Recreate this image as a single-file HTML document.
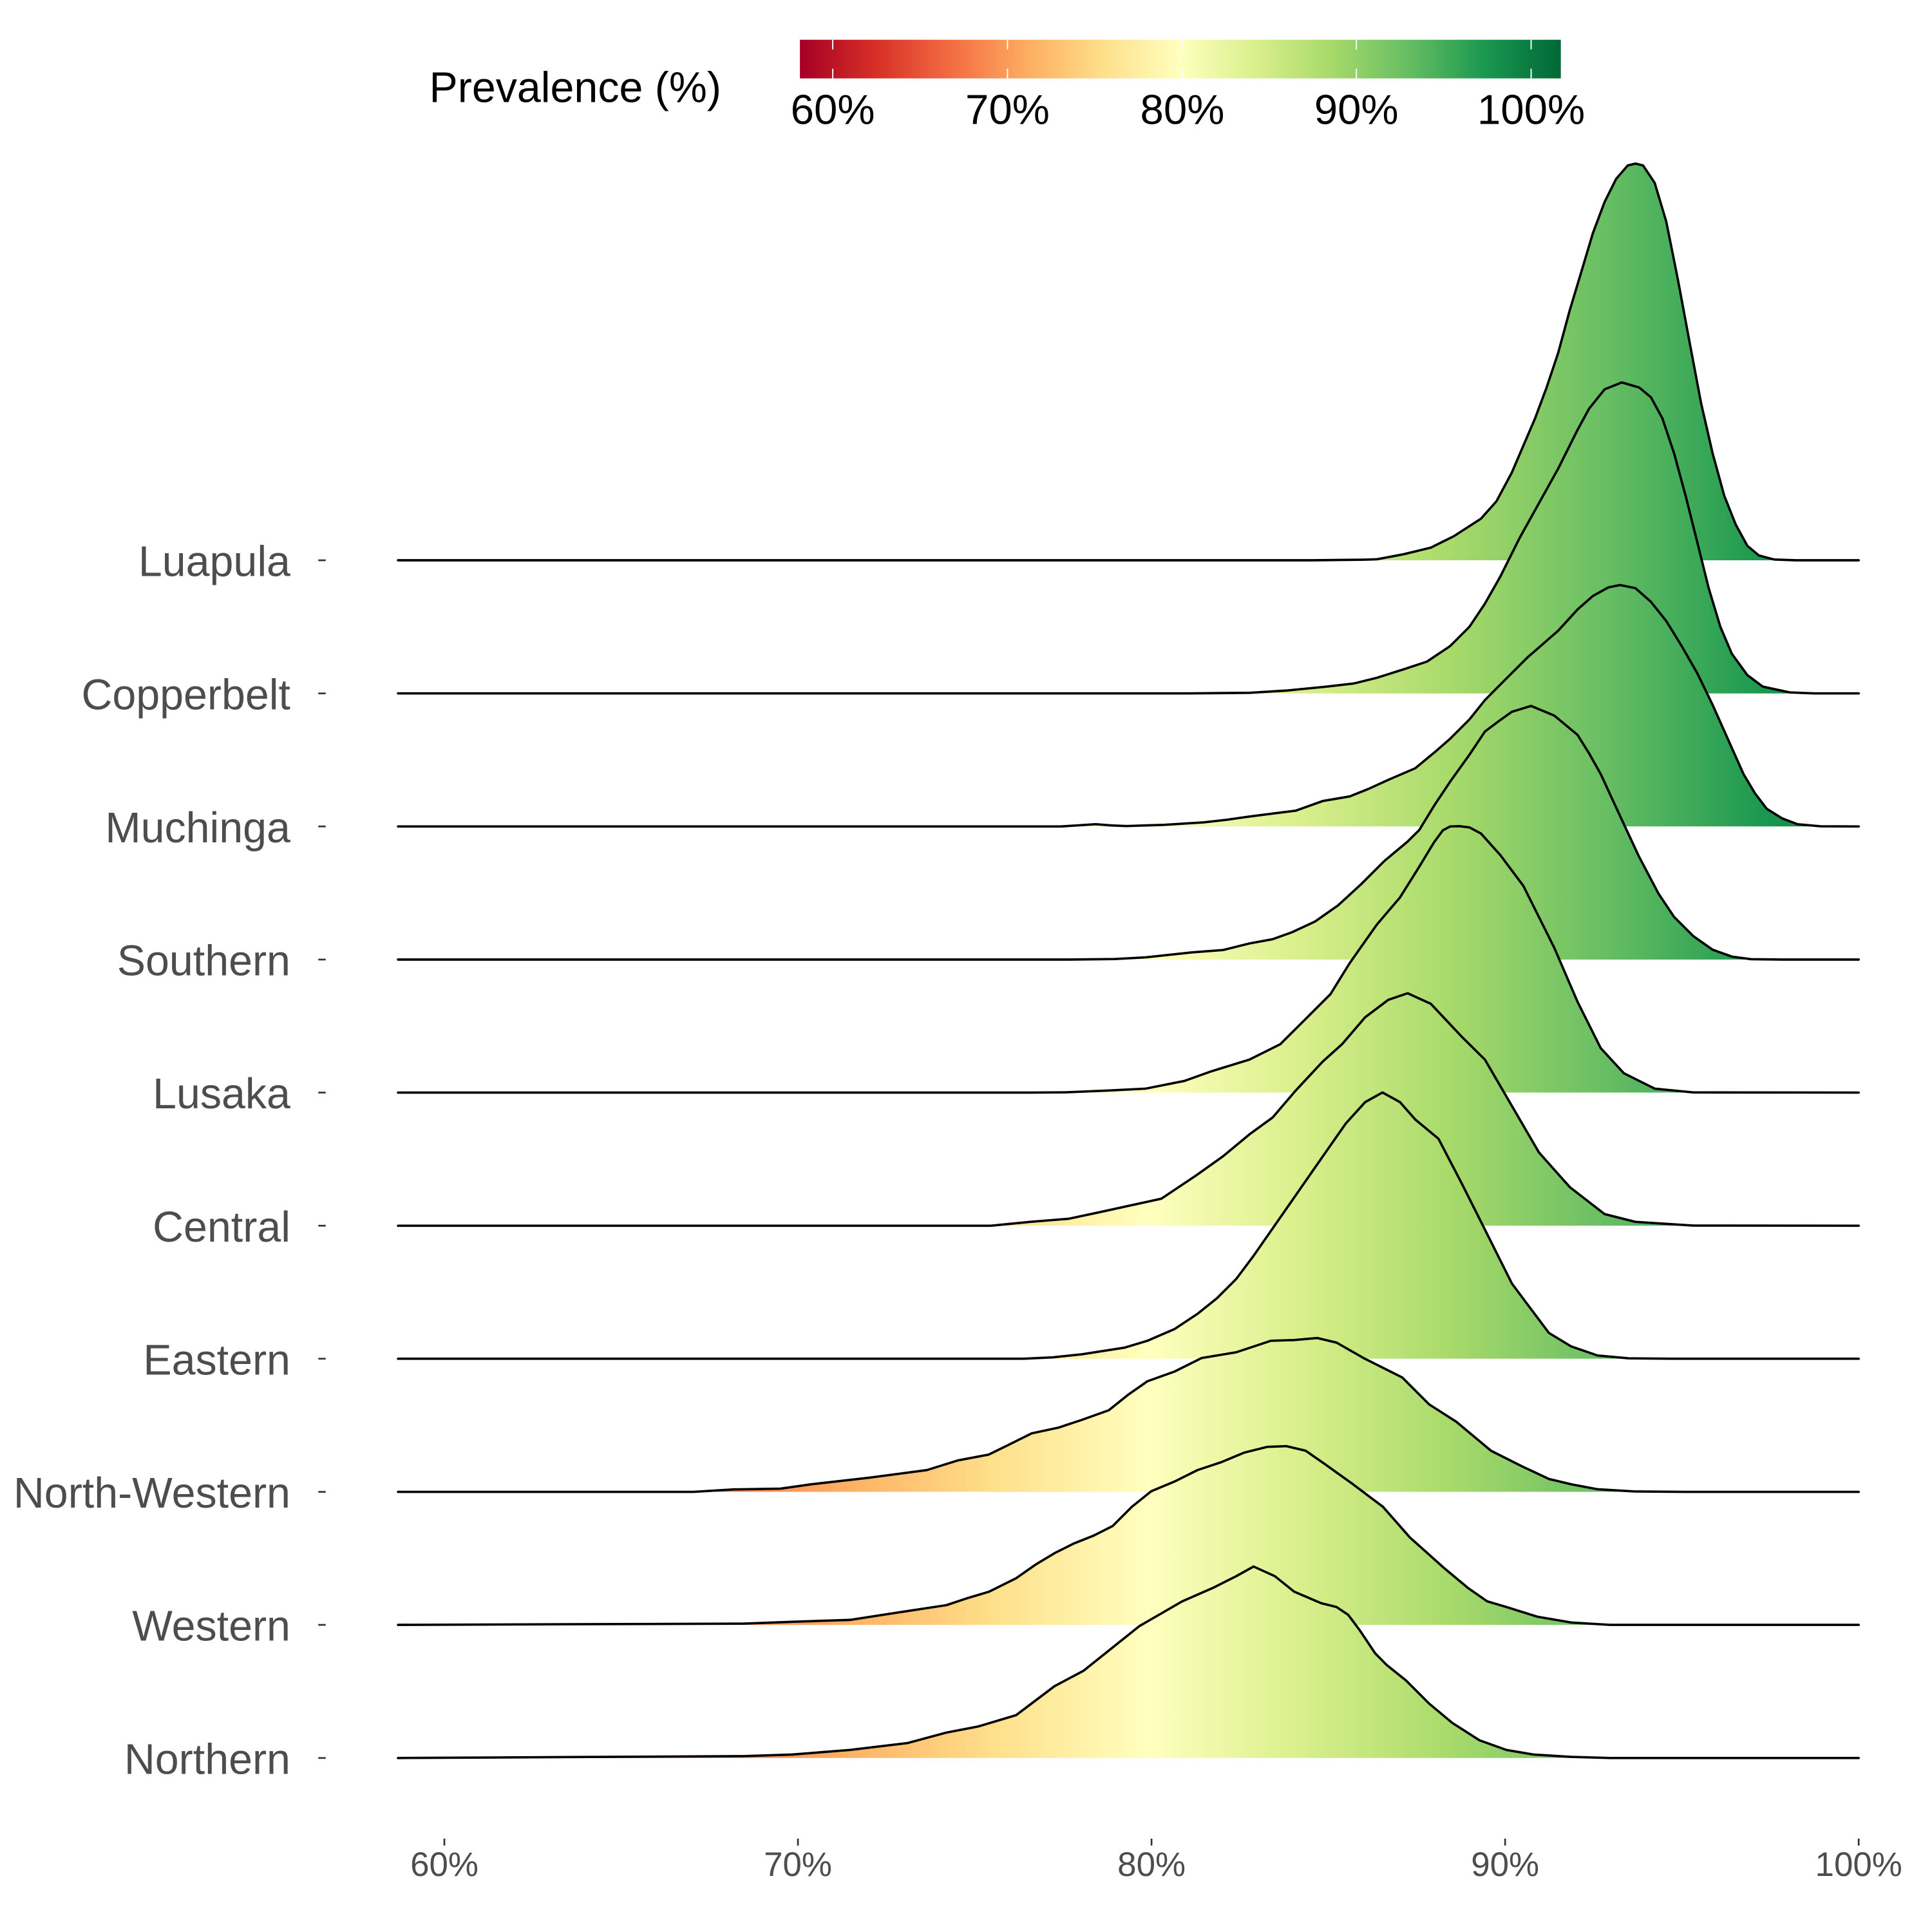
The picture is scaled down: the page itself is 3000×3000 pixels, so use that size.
<!DOCTYPE html>
<html>
<head>
<meta charset="utf-8">
<style>
html,body{margin:0;padding:0;background:#fff;}
svg{display:block;}
text{font-family:"Liberation Sans",Arial,sans-serif;}
</style>
</head>
<body>
<svg xmlns="http://www.w3.org/2000/svg" width="3000" height="3000" viewBox="0 0 1560 1560">
<defs>
<linearGradient id="g" gradientUnits="userSpaceOnUse" x1="305.1" y1="0" x2="1549.3" y2="0">
<stop offset="0" stop-color="#A50026"/>
<stop offset="0.1" stop-color="#D73027"/>
<stop offset="0.2" stop-color="#F46D43"/>
<stop offset="0.3" stop-color="#FDAE61"/>
<stop offset="0.4" stop-color="#FEE08B"/>
<stop offset="0.5" stop-color="#FFFFBF"/>
<stop offset="0.6" stop-color="#D9EF8B"/>
<stop offset="0.7" stop-color="#A6D96A"/>
<stop offset="0.8" stop-color="#66BD63"/>
<stop offset="0.9" stop-color="#1A9850"/>
<stop offset="1" stop-color="#006837"/>
</linearGradient>
<linearGradient id="lg" x1="0" y1="0" x2="1" y2="0">
<stop offset="0" stop-color="#A50026"/>
<stop offset="0.1" stop-color="#D73027"/>
<stop offset="0.2" stop-color="#F46D43"/>
<stop offset="0.3" stop-color="#FDAE61"/>
<stop offset="0.4" stop-color="#FEE08B"/>
<stop offset="0.5" stop-color="#FFFFBF"/>
<stop offset="0.6" stop-color="#D9EF8B"/>
<stop offset="0.7" stop-color="#A6D96A"/>
<stop offset="0.8" stop-color="#66BD63"/>
<stop offset="0.9" stop-color="#1A9850"/>
<stop offset="1" stop-color="#006837"/>
</linearGradient>
</defs>
<rect x="0" y="0" width="1560" height="1560" fill="#fff"/>

<!-- Legend -->
<text x="346.6" y="82.3" font-size="34.5" fill="#000">Prevalence (%)</text>
<rect x="645.9" y="32.1" width="614.4" height="31.2" fill="url(#lg)"/>
<g stroke="#fff" stroke-width="1">
<line x1="672.4" y1="32.1" x2="672.4" y2="39.9"/><line x1="672.4" y1="55.5" x2="672.4" y2="63.3"/>
<line x1="813.5" y1="32.1" x2="813.5" y2="39.9"/><line x1="813.5" y1="55.5" x2="813.5" y2="63.3"/>
<line x1="954.7" y1="32.1" x2="954.7" y2="39.9"/><line x1="954.7" y1="55.5" x2="954.7" y2="63.3"/>
<line x1="1095.2" y1="32.1" x2="1095.2" y2="39.9"/><line x1="1095.2" y1="55.5" x2="1095.2" y2="63.3"/>
<line x1="1236.3" y1="32.1" x2="1236.3" y2="39.9"/><line x1="1236.3" y1="55.5" x2="1236.3" y2="63.3"/>
</g>
<g font-size="34" fill="#000" text-anchor="middle">
<text x="672.4" y="100.2">60%</text>
<text x="813.5" y="100.2">70%</text>
<text x="954.7" y="100.2">80%</text>
<text x="1095.2" y="100.2">90%</text>
<text x="1236.3" y="100.2">100%</text>
</g>

<!-- Ridges -->
<g stroke="#000" stroke-width="1.9" stroke-linejoin="round" stroke-linecap="round">
<!-- Luapula -->
<path fill="url(#g)" stroke="none" d="M321.4,452.4 L1060,452.4 1102,451.9 1111.7,451.6 1133.5,447.5 1155.3,442.2 1174,432.9 1195.8,418.8 1208.3,404.8 1220.8,381.4 1239.5,337.8 1248.8,312.9 1258.2,284.8 1267.5,250.5 1276.9,219.3 1286.2,188.2 1295.6,163.2 1304.9,144.5 1314.3,133.6 1320.5,132.1 1326.7,133.6 1336.1,147.7 1345.4,178.8 1354.8,225.6 1364.1,275.5 1373.5,325.3 1382.8,365.8 1392.2,400.1 1401.5,423.5 1410.9,440.7 1420.2,448.5 1432.7,451.8 1450,452.4 1500.8,452.4 Z"/>
<path fill="none" d="M321.4,452.4 L1060,452.4 1102,451.9 1111.7,451.6 1133.5,447.5 1155.3,442.2 1174,432.9 1195.8,418.8 1208.3,404.8 1220.8,381.4 1239.5,337.8 1248.8,312.9 1258.2,284.8 1267.5,250.5 1276.9,219.3 1286.2,188.2 1295.6,163.2 1304.9,144.5 1314.3,133.6 1320.5,132.1 1326.7,133.6 1336.1,147.7 1345.4,178.8 1354.8,225.6 1364.1,275.5 1373.5,325.3 1382.8,365.8 1392.2,400.1 1401.5,423.5 1410.9,440.7 1420.2,448.5 1432.7,451.8 1450,452.4 1500.8,452.4"/>

<!-- Copperbelt -->
<path fill="url(#g)" stroke="none" d="M321.4,559.9 L960,559.9 1008.8,559.4 1040,557.5 1071.1,554.4 1093,551.9 1111.7,547.3 1133.5,540.4 1152.2,534.2 1170.9,521.7 1186.5,506.1 1199,487.4 1211.4,465.6 1227,434.4 1242.6,406.4 1258.2,378.3 1273.8,347.1 1283.1,330 1295.6,314.4 1309.6,308.8 1323.6,312.9 1333,320.7 1342.3,337.8 1351.7,365.9 1361,400.1 1370.4,437.5 1379.7,474.9 1389.1,506.1 1398.4,527.9 1410.9,545.1 1423.4,554.4 1445.2,559.1 1465,559.9 1500.8,559.9 Z"/>
<path fill="none" d="M321.4,559.9 L960,559.9 1008.8,559.4 1040,557.5 1071.1,554.4 1093,551.9 1111.7,547.3 1133.5,540.4 1152.2,534.2 1170.9,521.7 1186.5,506.1 1199,487.4 1211.4,465.6 1227,434.4 1242.6,406.4 1258.2,378.3 1273.8,347.1 1283.1,330 1295.6,314.4 1309.6,308.8 1323.6,312.9 1333,320.7 1342.3,337.8 1351.7,365.9 1361,400.1 1370.4,437.5 1379.7,474.9 1389.1,506.1 1398.4,527.9 1410.9,545.1 1423.4,554.4 1445.2,559.1 1465,559.9 1500.8,559.9"/>

<!-- Muchinga -->
<path fill="url(#g)" stroke="none" d="M321.4,667.3 L856.6,667.3 870,666.5 884.7,665.5 897,666.5 909.6,667 940,666 972,664 990,662 1008.8,659.3 1027,657 1046.2,654.6 1068,646.8 1089.8,643.1 1105,637 1121,629.7 1142.8,620.3 1158.4,607.4 1170.9,596.5 1186.5,580.9 1199,565.3 1214.5,549.7 1233.2,531 1245.7,520.1 1258.2,509.2 1273.8,492.1 1286.2,481.2 1298.7,474.3 1308,472.4 1320.5,474.9 1333,485.9 1345.4,501.4 1357.9,521.7 1370.4,543.5 1382.8,569 1395.3,597 1407.8,625 1417.1,640.6 1426.5,653 1439,660.8 1451.4,665.5 1470.1,667.2 1500.8,667.3 Z"/>
<path fill="none" d="M321.4,667.3 L856.6,667.3 870,666.5 884.7,665.5 897,666.5 909.6,667 940,666 972,664 990,662 1008.8,659.3 1027,657 1046.2,654.6 1068,646.8 1089.8,643.1 1105,637 1121,629.7 1142.8,620.3 1158.4,607.4 1170.9,596.5 1186.5,580.9 1199,565.3 1214.5,549.7 1233.2,531 1245.7,520.1 1258.2,509.2 1273.8,492.1 1286.2,481.2 1298.7,474.3 1308,472.4 1320.5,474.9 1333,485.9 1345.4,501.4 1357.9,521.7 1370.4,543.5 1382.8,569 1395.3,597 1407.8,625 1417.1,640.6 1426.5,653 1439,660.8 1451.4,665.5 1470.1,667.2 1500.8,667.3"/>

<!-- Southern -->
<path fill="url(#g)" stroke="none" d="M321.4,774.8 L863,774.8 900,774.4 925.2,773 962.6,769 987.6,767.1 1008.8,761.8 1027.5,758.4 1043.1,752.8 1061.8,744.1 1080.5,731 1099.2,713.8 1117.9,695.1 1136.6,679.5 1146,670.2 1158.4,649.9 1170.9,631.2 1186.5,609.4 1199,590.7 1211.4,581.4 1220.8,574.7 1236.3,570 1255,577.8 1273.8,593.4 1283.1,608.3 1292.5,625 1301.8,645.2 1311.2,665.5 1323.6,692 1339.2,721.6 1351.7,740.3 1367.3,755.9 1382.8,766.8 1398.4,772.4 1414,774.5 1440,774.8 1500.8,774.8 Z"/>
<path fill="none" d="M321.4,774.8 L863,774.8 900,774.4 925.2,773 962.6,769 987.6,767.1 1008.8,761.8 1027.5,758.4 1043.1,752.8 1061.8,744.1 1080.5,731 1099.2,713.8 1117.9,695.1 1136.6,679.5 1146,670.2 1158.4,649.9 1170.9,631.2 1186.5,609.4 1199,590.7 1211.4,581.4 1220.8,574.7 1236.3,570 1255,577.8 1273.8,593.4 1283.1,608.3 1292.5,625 1301.8,645.2 1311.2,665.5 1323.6,692 1339.2,721.6 1351.7,740.3 1367.3,755.9 1382.8,766.8 1398.4,772.4 1414,774.5 1440,774.8 1500.8,774.8"/>

<!-- Lusaka -->
<path fill="url(#g)" stroke="none" d="M321.4,882.2 L831.7,882.2 860,882 894,880.6 925.2,879 956.4,872.8 978.2,865 1008.8,855.6 1033.7,843.2 1055.6,821.4 1074.3,802.7 1089.8,777.7 1111.7,746.6 1130.4,724.7 1146,699.8 1158,680 1165,670.5 1171,667.3 1178.7,667.1 1186.5,668.1 1195.8,673 1211.4,690.4 1230.1,715.4 1255,765.3 1273.8,808.9 1292.5,846.3 1311.2,866.6 1336.1,879 1367.3,882.1 1500.8,882.2 Z"/>
<path fill="none" d="M321.4,882.2 L831.7,882.2 860,882 894,880.6 925.2,879 956.4,872.8 978.2,865 1008.8,855.6 1033.7,843.2 1055.6,821.4 1074.3,802.7 1089.8,777.7 1111.7,746.6 1130.4,724.7 1146,699.8 1158,680 1165,670.5 1171,667.3 1178.7,667.1 1186.5,668.1 1195.8,673 1211.4,690.4 1230.1,715.4 1255,765.3 1273.8,808.9 1292.5,846.3 1311.2,866.6 1336.1,879 1367.3,882.1 1500.8,882.2"/>

<!-- Central -->
<path fill="url(#g)" stroke="none" d="M321.4,989.7 L800,989.7 831.7,986.6 862.9,984.1 887.8,978.8 937.7,967.9 965.7,949.2 987.6,933.6 1008.8,916 1027.5,902.4 1046.2,880.6 1068,857.2 1083.6,843.2 1102.3,821.4 1121,807.3 1136.6,802 1155.3,810.5 1180.2,837 1199,855.6 1220.8,893 1242.6,930.5 1267.5,958.5 1295.6,980.3 1320.5,986.6 1367.3,989.6 1500.8,989.7 Z"/>
<path fill="none" d="M321.4,989.7 L800,989.7 831.7,986.6 862.9,984.1 887.8,978.8 937.7,967.9 965.7,949.2 987.6,933.6 1008.8,916 1027.5,902.4 1046.2,880.6 1068,857.2 1083.6,843.2 1102.3,821.4 1121,807.3 1136.6,802 1155.3,810.5 1180.2,837 1199,855.6 1220.8,893 1242.6,930.5 1267.5,958.5 1295.6,980.3 1320.5,986.6 1367.3,989.6 1500.8,989.7"/>

<!-- Eastern -->
<path fill="url(#g)" stroke="none" d="M321.4,1097.1 L826.5,1097.1 850,1096 873.5,1093.5 907.8,1088.2 926.5,1082.6 948.3,1073.2 967,1060.8 982.6,1048.3 998.2,1032.7 1012.2,1014 1040,974.1 1064.9,938.3 1086.7,907.1 1102.3,889.9 1116.3,882.1 1130.4,889.9 1142.8,904 1161.5,919.5 1180.2,955.4 1202.1,999 1220.8,1036.4 1232,1051.4 1250.7,1076.3 1268.7,1087.2 1290,1094.5 1315,1096.8 1350,1097.1 1500.8,1097.1 Z"/>
<path fill="none" d="M321.4,1097.1 L826.5,1097.1 850,1096 873.5,1093.5 907.8,1088.2 926.5,1082.6 948.3,1073.2 967,1060.8 982.6,1048.3 998.2,1032.7 1012.2,1014 1040,974.1 1064.9,938.3 1086.7,907.1 1102.3,889.9 1116.3,882.1 1130.4,889.9 1142.8,904 1161.5,919.5 1180.2,955.4 1202.1,999 1220.8,1036.4 1232,1051.4 1250.7,1076.3 1268.7,1087.2 1290,1094.5 1315,1096.8 1350,1097.1 1500.8,1097.1"/>

<!-- North-Western -->
<path fill="url(#g)" stroke="none" d="M321.4,1204.6 L560,1204.6 592.7,1202.6 630.1,1202 655,1198.5 701.8,1193.2 748.5,1187 773.5,1179.2 798.4,1174.5 814.3,1166.7 833,1157.4 854.8,1152.7 873.5,1146.5 895.3,1138.7 910.9,1126.2 926.5,1115.3 948.3,1107.5 970.1,1096.6 998.2,1091.9 1026.2,1082.6 1045,1082 1063.7,1080.4 1079.2,1084.1 1101.1,1096.6 1132.2,1112.2 1154,1134 1175.9,1148 1203.9,1171.4 1228.8,1183.9 1250.7,1194.2 1268.7,1198.5 1290,1202.5 1320,1204.3 1360,1204.6 1500.8,1204.6 Z"/>
<path fill="none" d="M321.4,1204.6 L560,1204.6 592.7,1202.6 630.1,1202 655,1198.5 701.8,1193.2 748.5,1187 773.5,1179.2 798.4,1174.5 814.3,1166.7 833,1157.4 854.8,1152.7 873.5,1146.5 895.3,1138.7 910.9,1126.2 926.5,1115.3 948.3,1107.5 970.1,1096.6 998.2,1091.9 1026.2,1082.6 1045,1082 1063.7,1080.4 1079.2,1084.1 1101.1,1096.6 1132.2,1112.2 1154,1134 1175.9,1148 1203.9,1171.4 1228.8,1183.9 1250.7,1194.2 1268.7,1198.5 1290,1202.5 1320,1204.3 1360,1204.6 1500.8,1204.6"/>

<!-- Western -->
<path fill="url(#g)" stroke="none" d="M321.4,1312 L600,1311 639.4,1309.5 686.2,1308 733,1300.8 764.1,1296.1 780,1290.8 798.7,1285.2 820.5,1274.3 836.1,1263.4 851.7,1254 867.3,1246.2 882.9,1240 898.4,1232.2 914,1216.6 929.6,1204.1 948.3,1196.3 967,1187 985.7,1180.8 1004.4,1173 1023.1,1168.3 1038.7,1167.7 1054.3,1171.4 1069.9,1182.3 1091.7,1197.9 1116.6,1216.6 1138.5,1241.5 1166.5,1266.5 1185.2,1282.1 1200.8,1293 1216.4,1297.6 1241.3,1305.4 1268.7,1310.1 1300,1312 1500.8,1312 Z"/>
<path fill="none" d="M321.4,1312 L600,1311 639.4,1309.5 686.2,1308 733,1300.8 764.1,1296.1 780,1290.8 798.7,1285.2 820.5,1274.3 836.1,1263.4 851.7,1254 867.3,1246.2 882.9,1240 898.4,1232.2 914,1216.6 929.6,1204.1 948.3,1196.3 967,1187 985.7,1180.8 1004.4,1173 1023.1,1168.3 1038.7,1167.7 1054.3,1171.4 1069.9,1182.3 1091.7,1197.9 1116.6,1216.6 1138.5,1241.5 1166.5,1266.5 1185.2,1282.1 1200.8,1293 1216.4,1297.6 1241.3,1305.4 1268.7,1310.1 1300,1312 1500.8,1312"/>

<!-- Northern -->
<path fill="url(#g)" stroke="none" d="M321.4,1419.5 L600,1418 639.4,1416.7 686.2,1413 733,1407.4 764.1,1399 790,1394 820.5,1384.9 851.5,1361.5 875,1349 920,1313 954.6,1293 979.5,1282.1 998.2,1272.7 1012.2,1264.9 1029.4,1272.7 1045,1285.2 1066.8,1294.5 1079.2,1297.6 1088.6,1303.9 1097.9,1316.3 1110.4,1335 1119.7,1344.4 1135.3,1356.9 1154,1375.6 1172.7,1391.2 1194.6,1405.2 1216.4,1413 1238.2,1416.7 1268.7,1418.6 1300,1419.5 1500.8,1419.5 Z"/>
<path fill="none" d="M321.4,1419.5 L600,1418 639.4,1416.7 686.2,1413 733,1407.4 764.1,1399 790,1394 820.5,1384.9 851.5,1361.5 875,1349 920,1313 954.6,1293 979.5,1282.1 998.2,1272.7 1012.2,1264.9 1029.4,1272.7 1045,1285.2 1066.8,1294.5 1079.2,1297.6 1088.6,1303.9 1097.9,1316.3 1110.4,1335 1119.7,1344.4 1135.3,1356.9 1154,1375.6 1172.7,1391.2 1194.6,1405.2 1216.4,1413 1238.2,1416.7 1268.7,1418.6 1300,1419.5 1500.8,1419.5"/>
</g>

<!-- Y axis ticks -->
<g stroke="#333" stroke-width="1.4">
<line x1="257" y1="452.4" x2="263" y2="452.4"/>
<line x1="257" y1="559.9" x2="263" y2="559.9"/>
<line x1="257" y1="667.3" x2="263" y2="667.3"/>
<line x1="257" y1="774.8" x2="263" y2="774.8"/>
<line x1="257" y1="882.2" x2="263" y2="882.2"/>
<line x1="257" y1="989.7" x2="263" y2="989.7"/>
<line x1="257" y1="1097.1" x2="263" y2="1097.1"/>
<line x1="257" y1="1204.6" x2="263" y2="1204.6"/>
<line x1="257" y1="1312" x2="263" y2="1312"/>
<line x1="257" y1="1419.5" x2="263" y2="1419.5"/>
</g>
<!-- Y axis labels -->
<g font-size="34.5" fill="#4D4D4D" text-anchor="end">
<text x="234.5" y="465.2">Luapula</text>
<text x="234.5" y="572.7">Copperbelt</text>
<text x="234.5" y="680.1">Muchinga</text>
<text x="234.5" y="787.6">Southern</text>
<text x="234.5" y="895">Lusaka</text>
<text x="234.5" y="1002.5">Central</text>
<text x="234.5" y="1109.9">Eastern</text>
<text x="234.5" y="1217.4">North-Western</text>
<text x="234.5" y="1324.8">Western</text>
<text x="234.5" y="1432.3">Northern</text>
</g>

<!-- X axis ticks -->
<g stroke="#333" stroke-width="1.4">
<line x1="358.8" y1="1484.6" x2="358.8" y2="1490.2"/>
<line x1="644.3" y1="1484.6" x2="644.3" y2="1490.2"/>
<line x1="929.8" y1="1484.6" x2="929.8" y2="1490.2"/>
<line x1="1215.3" y1="1484.6" x2="1215.3" y2="1490.2"/>
<line x1="1500.8" y1="1484.6" x2="1500.8" y2="1490.2"/>
</g>
<g font-size="27.5" fill="#4D4D4D" text-anchor="middle">
<text x="358.8" y="1514.8">60%</text>
<text x="644.3" y="1514.8">70%</text>
<text x="929.8" y="1514.8">80%</text>
<text x="1215.3" y="1514.8">90%</text>
<text x="1500.8" y="1514.8">100%</text>
</g>
</svg>
</body>
</html>
